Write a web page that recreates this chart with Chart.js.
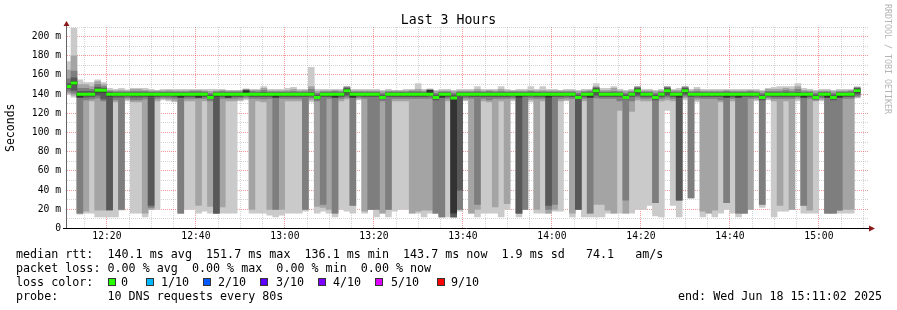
<!DOCTYPE html>
<html>
<head>
<meta charset="utf-8">
<title>Last 3 Hours</title>
<script src="https://cdn.jsdelivr.net/npm/chart.js@4.4.1/dist/chart.umd.min.js"></script>
<style>
  html, body { margin: 0; padding: 0; background: #fff; }
  #page { position: relative; width: 897px; height: 310px; overflow: hidden;
    font-family: 'DejaVu Sans Mono', monospace; color: #000; }
  #chart { position: absolute; left: 0; top: 0; }
  #title { position: absolute; left: 0; top: 12px; width: 897px; text-align: center;
    font-size: 13.2px; line-height: 16px; }
  #credit { position: absolute; left: 883px; top: 4px; font-size: 8.3px; line-height: 10px;
    color: #b4b4b4; writing-mode: vertical-rl; }
  .row { position: absolute; font-size: 11.7px; line-height: 14px; white-space: pre; }
  .swatch { position: absolute; top: 278px; width: 8px; height: 8px; box-sizing: border-box; border: 1px solid #333; }
</style>
</head>
<body>
<div id="page">
  <canvas id="chart" width="897" height="250"></canvas>
  <div id="title">Last 3 Hours</div>
  <div id="credit">RRDTOOL / TOBI OETIKER</div>
  <div class="row" style="left:16px;top:247px">median rtt:  140.1 ms avg  151.7 ms max  136.1 ms min  143.7 ms now  1.9 ms sd   74.1   am/s</div>
  <div class="row" style="left:16px;top:261px">packet loss: 0.00 % avg  0.00 % max  0.00 % min  0.00 % now</div>
  <div class="row" style="left:16px;top:275px">loss color:</div>
  <div id="lossLegend"></div>
  <div class="row" style="left:16px;top:289px">probe:       10 DNS requests every 80s</div>
  <div class="row" style="left:678px;top:289px">end: Wed Jun 18 15:11:02 2025</div>
</div>
<script>
// graph window: 3 hours ending 15:11:02, one sample every 80 s
const startClock = [12, 11, 2]
const windowSeconds = 3 * 3600
const stepSeconds = 80
const firstSampleOffset = 14

// smokeping: 10 sorted DNS round trips per sample (ms), plus the median
const ping1 = [
  140, 137, 15, 16, 16, 12, 12, 12, 12, 19,
  133, 16, 16, 12, 20, 20, 134, 133, 132, 16,
  20, 20, 16, 18, 16, 16, 16, 16, 16, 133,
  134, 16, 16, 16, 14, 12, 14, 16, 16, 16,
  18, 132, 16, 18, 16, 12, 20, 18, 16, 134,
  16, 20, 12, 16, 12, 18, 20, 20, 16, 16,
  12, 16, 16, 12, 12, 12, 18, 133, 16, 12,
  16, 16, 16, 12, 20, 133, 12, 20, 132, 16,
  16, 16, 18, 18, 133, 12, 20, 12, 12, 12,
  12, 16, 16, 16, 16, 16, 20, 20, 24, 13,
  12, 123, 24, 12, 134, 32, 132, 12, 16, 12,
  16, 20, 16, 12, 16, 20, 133, 22, 134, 12,
  18, 18, 20, 133, 16, 16, 16, 133, 16, 16,
  16, 16, 16, 136
]
const ping2 = [
  141, 139, 16, 18, 133, 19, 19, 19, 132, 20,
  134.5, 132, 132, 16, 20, 133, 135, 134.5, 133, 16,
  133, 133, 24, 133, 23, 16, 22.5, 133, 133, 134,
  135.5, 20, 133, 132, 20, 20, 20, 133, 133, 133,
  20, 134, 23, 22, 20, 16, 133, 135, 24, 135,
  18, 20, 20, 16, 20, 133, 133, 133, 16, 18,
  19, 19, 16, 12, 133, 12, 20, 134, 16, 20,
  133, 132, 22.5, 133, 26, 134.5, 16, 20, 134, 20,
  133, 16, 20, 133, 134, 16, 20, 133, 16, 25,
  25, 19, 16, 123, 16, 122, 134, 133, 133, 27,
  133, 134, 133, 29, 136, 32, 134, 18, 16, 19,
  132, 27, 133, 16, 16, 20, 134.5, 25, 135, 133,
  24, 133, 20, 135, 24, 19, 133, 134.5, 16, 16,
  19, 20, 20, 137
]
const ping3 = [
  143, 141, 16, 134, 135, 136, 133, 19, 134, 20,
  136, 134, 134, 135, 22, 135.5, 136.5, 136, 135.5, 16,
  135.5, 135.5, 135.5, 135.5, 133, 16, 135.5, 135.5, 135.5, 136,
  137, 135.5, 135.5, 135, 135.5, 20, 135.5, 135.5, 135.5, 135.5,
  20, 136, 133, 25, 135.5, 16, 135.5, 137, 24, 136.5,
  135.5, 20, 20, 133, 20, 135.5, 135.5, 135.5, 135.5, 135.5,
  135.5, 135.5, 16, 12, 135.5, 12, 20, 136, 135.5, 25,
  135.5, 134, 135.5, 135.5, 135.5, 136, 16, 20, 136, 135.5,
  135.5, 20, 25, 135.5, 136, 135.5, 20, 135.5, 16, 136,
  135.5, 135.5, 135.5, 133, 29.5, 133, 137, 135.5, 135.5, 27,
  135.5, 137, 135.5, 29, 138, 32, 136, 135.5, 135.5, 135.5,
  134, 27, 135.5, 16, 16, 135.5, 136, 25, 136.5, 135.5,
  135.5, 135.5, 135.5, 137, 24, 135.5, 134, 136, 16, 16,
  19, 135.5, 135.5, 138
]
const ping4 = [
  146, 144, 136.5, 137, 137.5, 139, 135, 19.5, 137, 137,
  138, 137, 137, 137.5, 24, 137.5, 138, 138, 137.5, 136.5,
  137.5, 137.5, 136.5, 137.5, 135, 16, 137.5, 136.5, 137.5, 137.5,
  139.5, 137.5, 137.5, 137.5, 137.5, 136.5, 137.5, 137.5, 137.5, 137.5,
  137.5, 138, 135, 137.5, 137.5, 136.5, 137.5, 139, 136.5, 138,
  137.5, 137.5, 137.5, 135, 137.5, 137.5, 137.5, 137.5, 137.5, 137.5,
  137.5, 138, 134, 136.5, 137.5, 12, 40, 138, 137.5, 137.5,
  137.5, 137.5, 137.5, 137.5, 137.5, 138, 16, 137.5, 138, 137.5,
  137.5, 24, 137.5, 137.5, 138, 137.5, 20, 137.5, 136.5, 139,
  137.5, 137.5, 137.5, 137.5, 135, 137.5, 139, 137.5, 137.5, 134,
  137.5, 139, 137.5, 30, 140, 137.5, 138, 137.5, 137.5, 137.5,
  137.5, 136.5, 137.5, 136.5, 137.5, 137.5, 138, 134, 138, 137.5,
  137.5, 137.5, 137.5, 138, 136.5, 137.5, 135, 138, 136.5, 134,
  136.5, 137.5, 137.5, 140
]
const ping5 = [
  147, 150, 137, 139, 139, 142, 142, 138, 139, 139,
  139, 139, 139, 139, 138, 139, 139, 139, 139, 137,
  139, 139, 137, 139, 136, 138, 139, 137, 139, 139,
  140, 139, 139, 139, 139, 137, 139, 139, 139, 139,
  139, 139, 136, 139, 139, 137, 139, 142, 137, 139,
  139, 139, 139, 136, 139, 139, 139, 139, 139, 139,
  139, 140, 136, 137, 139, 16, 139, 139, 139, 139,
  139, 139, 139, 139, 139, 139, 137, 139, 139, 139,
  139, 137, 139, 139, 139, 139, 136, 139, 137, 142,
  139, 139, 139, 139, 136, 139, 142, 139, 139, 136,
  139, 142, 139, 137, 142, 139, 139, 139, 139, 139,
  139, 137, 139, 137, 139, 139, 139, 136, 139, 139,
  139, 139, 139, 139, 137, 139, 136, 139, 137, 136,
  137, 139, 139, 142
]
const ping6 = [
  149, 153, 141, 141, 141, 145, 145, 141, 140.5, 140.5,
  140.5, 140.5, 140.5, 140.5, 140.5, 140.5, 140.5, 140.5, 140.5, 140.5,
  140.5, 140.5, 140.5, 140.5, 137, 140.5, 140.5, 140.5, 140.5, 140.5,
  143.5, 140.5, 140.5, 140.5, 140.5, 140.5, 140.5, 140.5, 140.5, 140.5,
  140.5, 140.5, 137, 140.5, 140.5, 140.5, 140.5, 145, 140.5, 140.5,
  140.5, 140.5, 140.5, 137, 140.5, 140.5, 140.5, 140.5, 140.5, 140.5,
  140.5, 144, 137, 140.5, 140.5, 137, 140.5, 140.5, 140.5, 140.5,
  140.5, 140.5, 140.5, 140.5, 140.5, 140.5, 140.5, 140.5, 140.5, 140.5,
  140.5, 140.5, 140.5, 140.5, 140.5, 140.5, 137, 140.5, 140.5, 145,
  140.5, 140.5, 140.5, 140.5, 137, 140.5, 145, 140.5, 140.5, 137,
  140.5, 145, 140.5, 140.5, 145, 140.5, 140.5, 140.5, 140.5, 140.5,
  140.5, 140.5, 140.5, 140.5, 140.5, 140.5, 140.5, 137, 140.5, 140.5,
  140.5, 140.5, 140.5, 140.5, 140.5, 140.5, 137, 140.5, 140.5, 137,
  140.5, 140.5, 140.5, 145
]
const ping7 = [
  151, 157, 143, 143, 143, 147, 146, 142, 141.5, 141.5,
  141.5, 141.5, 141.5, 141.5, 141.5, 141.5, 141.5, 141.5, 141.5, 141.5,
  141.5, 141.5, 141.5, 141.5, 139, 141.5, 141.5, 141.5, 141.5, 141.5,
  144, 141.5, 141.5, 142, 141.5, 141.5, 141.5, 141.5, 141.5, 141.5,
  141.5, 142, 139, 141.5, 141.5, 141.5, 141.5, 146, 141.5, 141.5,
  141.5, 141.5, 141.5, 139, 141.5, 141.5, 141.5, 141.5, 141.5, 141.5,
  141.5, 144, 139, 141.5, 141.5, 139, 141.5, 141.5, 141.5, 141.5,
  141.5, 141.5, 141.5, 141.5, 141.5, 141.5, 141.5, 141.5, 141.5, 141.5,
  141.5, 141.5, 141.5, 141.5, 141.5, 141.5, 139, 141.5, 141.5, 146,
  141.5, 141.5, 141.5, 141.5, 139, 141.5, 146, 141.5, 141.5, 139,
  141.5, 146, 141.5, 141.5, 146, 141.5, 141.5, 141.5, 141.5, 141.5,
  141.5, 141.5, 141.5, 141.5, 141.5, 141.5, 141.5, 139, 141.5, 141.5,
  141.5, 142, 141.5, 142, 141.5, 141.5, 139, 141.5, 141.5, 139,
  141.5, 141.5, 141.5, 146
]
const ping8 = [
  156, 164, 146, 146, 145, 150, 148, 143, 142.5, 142.5,
  142.5, 143, 143, 143, 142.5, 142.5, 142.5, 142.5, 142.5, 142.5,
  142.5, 143, 143, 142.5, 141, 142.5, 143, 142.5, 142.5, 142.5,
  144.5, 143, 142.5, 144, 142.5, 142.5, 142.5, 142.5, 143, 142.5,
  142.5, 145, 141, 142.5, 142.5, 143, 142.5, 147, 142.5, 142.5,
  142.5, 142.5, 142.5, 141, 142.5, 142.5, 142.5, 142.5, 143, 143,
  142.5, 144.5, 141, 142.5, 142.5, 141, 142.5, 142.5, 142.5, 143,
  142.5, 143, 142.5, 143, 142.5, 142.5, 142.5, 142.5, 143, 142.5,
  142.5, 142.5, 142.5, 142.5, 142.5, 142.5, 141, 142.5, 143, 147,
  142.5, 142.5, 143, 142.5, 141, 142.5, 147, 142.5, 142.5, 141,
  142.5, 147, 142.5, 142.5, 147, 142.5, 143, 142.5, 142.5, 142.5,
  142.5, 143, 142.5, 142.5, 142.5, 143, 142.5, 141, 143, 143,
  143, 144, 143, 145, 142.5, 142.5, 141, 142.5, 142.5, 141,
  142.5, 142.5, 143, 146.5
]
const ping9 = [
  165, 180, 150, 150, 148, 153, 150, 144, 143.5, 144,
  143.5, 145, 145, 144, 143.5, 143.5, 143.5, 144, 143.5, 143.5,
  143.5, 144, 144, 143.5, 143, 143.5, 144, 143.5, 143.5, 143.5,
  145, 144, 144, 146, 143.5, 143.5, 143.5, 144, 145, 143.5,
  144, 148, 143, 143.5, 143.5, 144, 143.5, 148, 143.5, 143.5,
  143.5, 143.5, 143.5, 143, 143.5, 143.5, 143.5, 143.5, 144, 145,
  143.5, 145, 143, 143.5, 143.5, 143, 143.5, 143.5, 143.5, 145,
  143.5, 144, 143.5, 145, 143.5, 143.5, 143.5, 143.5, 144, 143.5,
  144, 143.5, 143.5, 143.5, 143.5, 143.5, 143, 143.5, 144, 148,
  144, 144, 146, 143.5, 143, 143.5, 148, 143.5, 143.5, 143,
  143.5, 148, 144, 144, 148, 143.5, 145, 143.5, 143.5, 143.5,
  143.5, 144, 143.5, 143.5, 143.5, 144, 143.5, 143, 145, 145,
  145, 146, 145, 148, 144, 143.5, 143, 143.5, 143.5, 143,
  143.5, 143.5, 144, 147
]
const ping10 = [
  174, 209, 155, 152, 152, 155, 152, 146, 145, 146,
  144.5, 146, 146, 146, 145, 144, 145, 145, 145, 145,
  145, 145, 145, 145, 145, 145, 145, 144, 144, 144,
  145.5, 145, 145, 148, 145, 145, 145, 146, 147, 145,
  145, 168, 145, 145, 145, 145, 145, 148, 145, 145,
  145, 145, 145, 144, 145, 144, 144, 145, 145, 151,
  145, 145.5, 144, 145, 145, 144, 145, 145, 145, 148,
  145, 145, 145, 148, 145, 144, 145, 145, 148, 145,
  148, 145, 145, 144, 145, 145, 144, 145, 145, 151,
  146, 146, 148, 145, 144, 145, 148, 145, 145, 144,
  145, 148, 145, 146, 148, 145, 147, 145, 145, 145,
  145, 145, 145, 145, 145, 145, 145, 144, 146, 147,
  148, 148, 148, 151, 146, 145, 144, 145, 145, 144,
  145, 145, 145, 148
]
const median = [
  148, 151.7, 140, 140, 140, 144, 144, 140, 140, 140,
  140, 140, 140, 140, 140, 140, 140, 140, 140, 140,
  140, 140, 140, 140, 136.5, 140, 140, 140, 140, 140,
  140, 140, 140, 140, 140, 140, 140, 140, 140, 140,
  140, 140, 136.5, 140, 140, 140, 140, 143.6, 140, 140,
  140, 140, 140, 136.5, 140, 140, 140, 140, 140, 140,
  140, 140, 136.5, 140, 140, 136.1, 140, 140, 140, 140,
  140, 140, 140, 140, 140, 140, 140, 140, 140, 140,
  140, 140, 140, 140, 140, 140, 136.5, 140, 140, 143.6,
  140, 140, 140, 140, 136.5, 140, 143.6, 140, 140, 136.5,
  140, 143.6, 140, 140, 143.6, 140, 140, 140, 140, 140,
  140, 140, 140, 140, 140, 140, 140, 136.5, 140, 140,
  140, 140, 140, 140, 140, 140, 136.5, 140, 140, 136.5,
  140, 140, 140, 143.7
]

// loss color legend
const lossLabels = ['0', '1/10', '2/10', '3/10', '4/10', '5/10', '9/10']
const lossColors = ['#26ff00', '#00b8ff', '#0059ff', '#5e00ff', '#7e00ff', '#dd00ff', '#ff0000']

const yTicksMax = 210
const smokeShades = ['#cacaca', '#a4a4a4', '#7e7e7e', '#585858', '#323232']
const gridMinor = 'rgba(150,150,150,0.4)'
const gridMajor = 'rgba(235,70,70,0.55)'

const swatchX = [108, 146, 203, 260, 318, 375, 437]
const labelX = [121, 161, 218, 276, 333, 391, 451]
const lossLegend = document.getElementById('lossLegend')
lossLabels.forEach((label, i) => {
  const sq = document.createElement('div')
  sq.className = 'swatch'
  sq.style.left = swatchX[i] + 'px'
  sq.style.background = lossColors[i]
  lossLegend.appendChild(sq)
  const tx = document.createElement('div')
  tx.className = 'row'
  tx.style.left = labelX[i] + 'px'
  tx.style.top = '275px'
  tx.textContent = label
  lossLegend.appendChild(tx)
})

const startSeconds = startClock[0] * 3600 + startClock[1] * 60 + startClock[2]
const xAt = j => firstSampleOffset + j * stepSeconds
const minuteAt = v => Math.round((startSeconds + v) / 60) % 60
function clockLabel(v) {
  const t = Math.round((startSeconds + v) / 60)
  const h = Math.floor(t / 60) % 24
  const m = t % 60
  return String(h).padStart(2, '0') + ':' + String(m).padStart(2, '0')
}

const pings = [ping1, ping2, ping3, ping4, ping5, ping6, ping7, ping8, ping9, ping10]

// band i spans ping(i) .. ping(11-i), darker towards the median
const smokeSets = smokeShades.map((color, i) => ({
  label: 'smoke' + (i + 1),
  data: pings[i].map((lo, j) => ({ x: xAt(j), y: [lo, pings[9 - i][j]] })),
  backgroundColor: color,
  borderWidth: 0,
  barPercentage: 1,
  categoryPercentage: 1,
  grouped: false,
  order: 10 - i
}))

const medianSet = {
  label: 'median',
  data: median.map((m, j) => ({ x: xAt(j), y: [m - 1.2, m + 1.2] })),
  backgroundColor: lossColors[0],
  borderWidth: 0,
  barPercentage: 1,
  categoryPercentage: 1,
  grouped: false,
  order: 1
}

const rrdAxes = {
  id: 'rrdAxes',
  afterDraw(chart) {
    const { ctx, chartArea: a } = chart
    ctx.save()
    ctx.lineWidth = 1
    ctx.strokeStyle = '#666'
    ctx.beginPath()
    ctx.moveTo(a.left - 0.5, a.bottom)
    ctx.lineTo(a.left - 0.5, a.top - 3)
    ctx.stroke()
    ctx.strokeStyle = '#000'
    ctx.beginPath()
    ctx.moveTo(a.left - 4, a.bottom)
    ctx.lineTo(a.right + 2, a.bottom)
    ctx.stroke()
    ctx.fillStyle = '#8b1a1a'
    ctx.beginPath()
    ctx.moveTo(a.left - 0.5, a.top - 6)
    ctx.lineTo(a.left - 3.5, a.top - 1)
    ctx.lineTo(a.left + 2.5, a.top - 1)
    ctx.closePath()
    ctx.fill()
    ctx.beginPath()
    ctx.moveTo(a.right + 7, a.bottom)
    ctx.lineTo(a.right + 1, a.bottom - 3)
    ctx.lineTo(a.right + 1, a.bottom + 3)
    ctx.closePath()
    ctx.fill()
    ctx.restore()
  }
}

const tickFont = { family: 'DejaVu Sans Mono', size: 9.7 }

new Chart(document.getElementById('chart'), {
  type: 'bar',
  data: { datasets: [medianSet, ...smokeSets] },
  options: {
    responsive: false,
    animation: false,
    layout: { padding: { top: 27, right: 29, left: 0, bottom: 0 } },
    plugins: { legend: { display: false }, tooltip: { enabled: false }, title: { display: false } },
    scales: {
      x: {
        type: 'linear',
        min: 0,
        max: windowSeconds,
        offset: false,
        z: 1,
        afterFit: s => { s.height = 21.5 },
        afterBuildTicks: s => {
          const ticks = []
          for (let t = 300 - (startSeconds % 300); t <= windowSeconds; t += 300) ticks.push({ value: t })
          s.ticks = ticks
        },
        grid: {
          offset: false,
          drawTicks: false,
          color: c => (c.tick && minuteAt(c.tick.value) % 20 === 0 ? gridMajor : gridMinor)
        },
        border: { display: false, dash: [1, 1] },
        ticks: {
          autoSkip: false,
          maxRotation: 0,
          padding: 2,
          color: '#000',
          font: tickFont,
          callback: v => (minuteAt(v) % 20 === 0 ? clockLabel(v) : '')
        }
      },
      y: {
        min: 0,
        max: yTicksMax,
        z: 1,
        afterFit: s => { s.width = 67 },
        grid: {
          drawTicks: false,
          color: c => (c.tick && c.tick.value % 20 === 0 ? gridMajor : gridMinor)
        },
        border: { display: false, dash: [1, 1] },
        ticks: {
          stepSize: 10,
          autoSkip: false,
          padding: 6,
          color: '#000',
          font: tickFont,
          callback: v => (v % 20 === 0 ? (v === 0 ? '0' : v + ' m') : '')
        },
        title: {
          display: true,
          text: 'Seconds',
          color: '#000',
          padding: { top: 4, bottom: 0 },
          font: { family: 'DejaVu Sans Mono', size: 11.5 }
        }
      }
    }
  },
  plugins: [rrdAxes]
})
</script>
</body>
</html>
